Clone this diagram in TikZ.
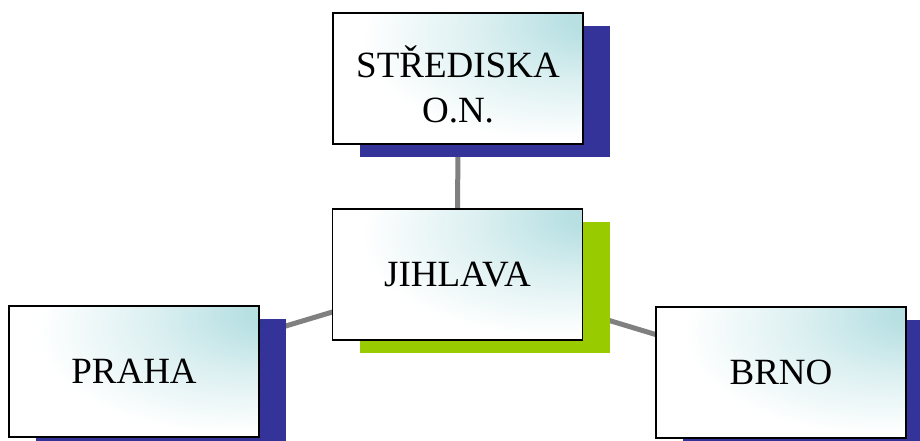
\documentclass[tikz,border=0pt]{standalone}
\usepackage{fontspec}
\setmainfont{Liberation Serif}
\usetikzlibrary{shadows,backgrounds}
\definecolor{boxteal}{RGB}{184,224,227}
\definecolor{shadowblue}{RGB}{51,51,153}
\definecolor{shadowgreen}{RGB}{153,204,0}
\definecolor{linkgray}{RGB}{128,128,128}
\pgfdeclareradialshading{boxshade}{\pgfpoint{30bp}{24bp}}{color(0bp)=(boxteal);color(6bp)=(boxteal);color(20bp)=(boxteal!50!white);color(38bp)=(white);color(100bp)=(white)}

\begin{document}
\begin{tikzpicture}[x=1pt,y=-1pt,
	city/.style={draw=black,line width=1.6pt,shading=boxshade,minimum width=250pt,minimum height=131pt,inner sep=0pt,font=\fontsize{37}{45}\selectfont},
	blueshadow/.style={general shadow={fill=shadowblue,shadow xshift=27pt,shadow yshift=-13pt}},
	greenshadow/.style={general shadow={fill=shadowgreen,shadow xshift=27pt,shadow yshift=-13pt}},
	link/.style={draw=linkgray,line width=5pt}]
	\useasboundingbox (0,0) rectangle (920,441);
	\node[city,blueshadow] (strediska) at (458,78.5) {\raisebox{0pt}[\dimexpr\height+24pt\relax][\depth]{\begin{tabular}{@{}c@{}}STŘEDISKA\\O.N.\end{tabular}}};
	\node[city,greenshadow] (jihlava) at (457.5,274.5) {JIHLAVA};
	\node[city,blueshadow] (praha) at (134,371.5) {PRAHA};
	\node[city,blueshadow] (brno) at (781,372.5) {BRNO};
	\begin{scope}[on background layer]
		\draw[link] (jihlava.center) -- (strediska.center);
		\draw[link] (jihlava.center) -- (praha.center);
		\draw[link] (jihlava.center) -- (brno.center);
	\end{scope}
\end{tikzpicture}
\end{document}
